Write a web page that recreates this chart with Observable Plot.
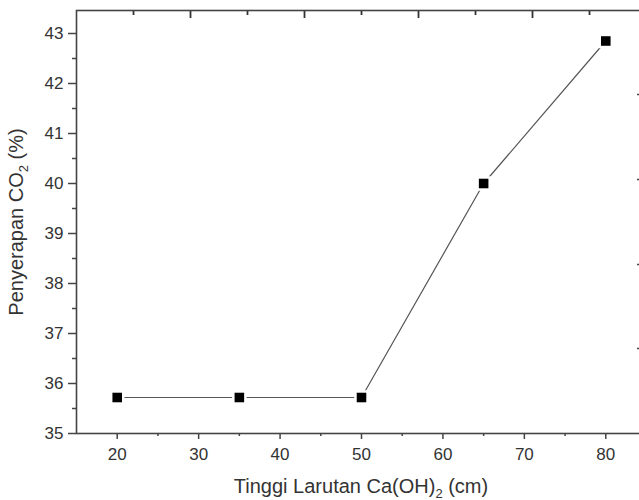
<!DOCTYPE html>
<html>
<head>
<meta charset="utf-8">
<script src="https://cdn.jsdelivr.net/npm/d3@7"></script>
<script src="https://cdn.jsdelivr.net/npm/@observablehq/plot@0.6"></script>
<style>
  html, body { margin: 0; padding: 0; background: #fff; overflow: hidden; }
  #chart { width: 639px; height: 500px; overflow: hidden; }
</style>
</head>
<body>
<div id="chart"></div>
<script>
// Data
const heights = [20, 35, 50, 65, 80];                  // Tinggi Larutan Ca(OH)2 (cm)
const absorption = [35.72, 35.72, 35.72, 40.0, 42.85]; // Penyerapan CO2 (%)

// Tick values
const xMajor = [20, 30, 40, 50, 60, 70, 80];
const xMinor = [25, 35, 45, 55, 65, 75];
const yMajor = [35, 36, 37, 38, 39, 40, 41, 42, 43];
const yMinor = [35.5, 36.5, 37.5, 38.5, 39.5, 40.5, 41.5, 42.5];
const topMajor = [29, 43, 57, 71];
const topMinor = [22, 36, 50, 64, 78];
const rightTicks = [36.7, 38.38, 40.08, 41.78];

const data = heights.map((h, i) => ({x: h, y: absorption[i]}));

const W = 660, H = 500, mL = 76, mR = 14, mT = 10, mB = 67;
const frameH = H - mT - mB;
const frameW = W - mL - mR;
const yDomain = [35, 43.46];

const plot = Plot.plot({
  width: W,
  height: H,
  marginLeft: mL,
  marginRight: mR,
  marginTop: mT,
  marginBottom: mB,
  x: {domain: [15, 85]},
  y: {domain: yDomain},
  style: {
    fontFamily: "'Liberation Sans', Arial, sans-serif",
    fontSize: "17px",
    color: "#333",
    background: "#fff",
    maxWidth: "none",
    overflow: "visible"
  },
  marks: [
    Plot.axisY({ticks: yMajor, tickSize: 8, tickPadding: 5, label: null, stroke: "#444", strokeWidth: 1.5, fill: "#333", fontSize: 17}),
    Plot.axisY({ticks: yMinor, tickSize: 4, text: null, label: null, stroke: "#444", strokeWidth: 1.5}),
    Plot.axisX({ticks: xMajor, tickSize: 6, tickPadding: 8, label: null, stroke: "#444", strokeWidth: 1.5, fill: "#333", fontSize: 17}),
    Plot.axisX({ticks: xMinor, tickSize: 3, text: null, label: null, stroke: "#444", strokeWidth: 1.5}),
    // inward ticks on the top edge
    Plot.tickX(topMajor, {x: d => d, insetBottom: frameH - 8, stroke: "#333", strokeWidth: 1.8}),
    Plot.tickX(topMinor, {x: d => d, insetBottom: frameH - 5, stroke: "#333", strokeWidth: 1.8}),
    // inward ticks on the (mostly cropped) right edge
    Plot.tickY(rightTicks, {y: d => d, insetLeft: frameW - 9, stroke: "#444", strokeWidth: 1.5}),
    Plot.frame({stroke: "#444", strokeWidth: 1.6}),
    Plot.line(data, {x: "x", y: "y", stroke: "#555", strokeWidth: 1.2}),
    Plot.dot(data, {x: "x", y: "y", symbol: "square", r: 5.4, fill: "#000", stroke: "#fff", strokeWidth: 5, paintOrder: "stroke"})
  ]
});

const svg = d3.select(plot);

// Axis titles with real subscripts
const xt = svg.append("text")
  .attr("x", 361).attr("y", 493)
  .attr("text-anchor", "middle")
  .attr("fill", "#333")
  .style("font-size", "20px");
xt.append("tspan").text("Tinggi Larutan Ca(OH)");
xt.append("tspan").attr("font-size", "13px").attr("dy", "5").text("2");
xt.append("tspan").attr("dy", "-5").text(" (cm)");

const yt = svg.append("text")
  .attr("transform", "translate(23,222) rotate(-90)")
  .attr("text-anchor", "middle")
  .attr("fill", "#333")
  .style("font-size", "20px");
yt.append("tspan").text("Penyerapan CO");
yt.append("tspan").attr("font-size", "13px").attr("dy", "5").text("2");
yt.append("tspan").attr("dy", "-5").text(" (%)");

document.getElementById("chart").appendChild(plot);
</script>
</body>
</html>
